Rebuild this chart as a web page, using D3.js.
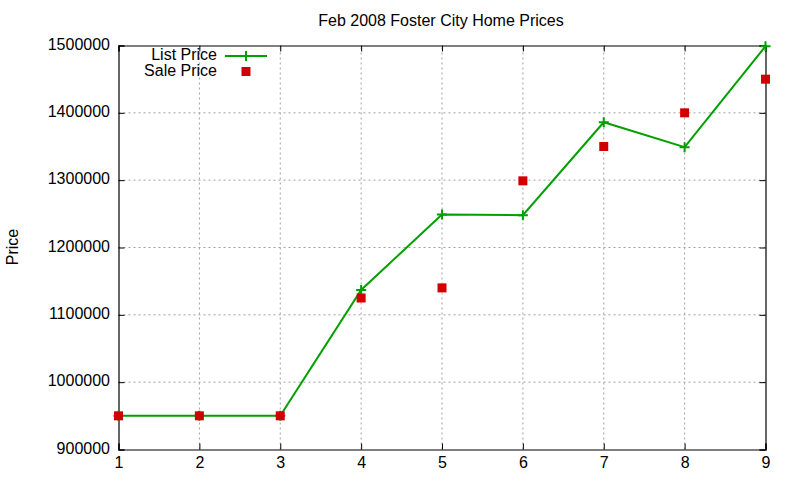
<!DOCTYPE html>
<html><head><meta charset="utf-8">
<script src="https://cdn.jsdelivr.net/npm/d3@7"></script>
<style>body{margin:0;background:#fff}text{font-family:"Liberation Sans",Arial,sans-serif}</style>
</head><body><svg id="c" width="800" height="480"></svg>
<script>
const houses = [1,2,3,4,5,6,7,8,9];
const listPrice = [950000,950000,950000,1137000,1249000,1248000,1386000,1349000,1499000];
const salePrice = [950000,950000,950000,1125000,1140000,1299000,1350000,1400000,1450000];
const yTicks = [900000,1000000,1100000,1200000,1300000,1400000,1500000];

const svg = d3.select("#c");
const L=118.5,R=765.5,T=45.5,B=449.5;
const FS=16;
const x = d3.scaleLinear().domain([1,9]).range([L,R]);
const y = d3.scaleLinear().domain([900000,1500000]).range([B,T]);

// grid
const g = svg.append("g");
g.selectAll(".gx").data(houses.slice(1,-1)).enter().append("line")
 .attr("x1",d=>x(d)).attr("x2",d=>x(d)).attr("y1",B).attr("y2",T)
 .attr("stroke","#a0a0a0").attr("stroke-dasharray","2,3");
g.selectAll(".gy").data(yTicks.slice(1,-1)).enter().append("line")
 .attr("y1",d=>y(d)).attr("y2",d=>y(d)).attr("x1",L).attr("x2",R)
 .attr("stroke","#a0a0a0").attr("stroke-dasharray","2,3");

// axes
const xa = svg.append("g").attr("transform",`translate(0,${B})`)
 .call(d3.axisBottom(x).tickValues(houses).tickFormat(d3.format("d")).tickSize(-6).tickPadding(7));
const xa2 = svg.append("g").attr("transform",`translate(0,${T})`)
 .call(d3.axisTop(x).tickValues(houses).tickFormat("").tickSize(-6));
const ya = svg.append("g").attr("transform",`translate(${L},0)`)
 .call(d3.axisLeft(y).tickValues(yTicks).tickFormat(d3.format("d")).tickSize(-6).tickPadding(8.5));
const ya2 = svg.append("g").attr("transform",`translate(${R},0)`)
 .call(d3.axisRight(y).tickValues(yTicks).tickFormat("").tickSize(-6));
[xa,xa2,ya,ya2].forEach(a=>{
  a.selectAll("path").attr("stroke","#000").attr("stroke-width",1.2);
  a.selectAll("line").attr("stroke","#000");
  a.selectAll("text").attr("font-size",FS).attr("fill","#000").attr("font-family","Liberation Sans, Arial, sans-serif");
});
ya.selectAll("text").attr("dy","0.22em");

// title and label
svg.append("text").attr("x",441).attr("y",26).attr("text-anchor","middle").attr("font-size",FS).text("Feb 2008 Foster City Home Prices");
svg.append("text").attr("transform","translate(18,247) rotate(-90)").attr("text-anchor","middle").attr("font-size",FS).text("Price");

// list line
const green="#00a000", red="#d00000";
svg.append("path").datum(houses).attr("fill","none").attr("stroke",green).attr("stroke-width",2)
 .attr("d",d3.line().x(d=>x(d)).y((d,i)=>y(listPrice[i])));
const plus = (sel,cx,cy)=>sel.append("path").attr("d",`M${cx-5},${cy}H${cx+5}M${cx},${cy-5}V${cy+5}`).attr("stroke",green).attr("stroke-width",2);
houses.forEach((d,i)=>plus(svg,x(d),y(listPrice[i])));

// sale points
svg.selectAll(".s").data(houses).enter().append("rect")
 .attr("x",d=>x(d)-4.5).attr("y",(d,i)=>y(salePrice[i])-4.5).attr("width",9).attr("height",9).attr("fill",red);

// legend
svg.append("text").attr("x",217).attr("y",60).attr("text-anchor","end").attr("font-size",FS).text("List Price");
svg.append("line").attr("x1",225).attr("x2",267).attr("y1",56).attr("y2",56).attr("stroke",green).attr("stroke-width",2);
plus(svg,246,56);
svg.append("text").attr("x",217).attr("y",76).attr("text-anchor","end").attr("font-size",FS).text("Sale Price");
svg.append("rect").attr("x",241.5).attr("y",67).attr("width",9).attr("height",9).attr("fill",red);
</script></body></html>
